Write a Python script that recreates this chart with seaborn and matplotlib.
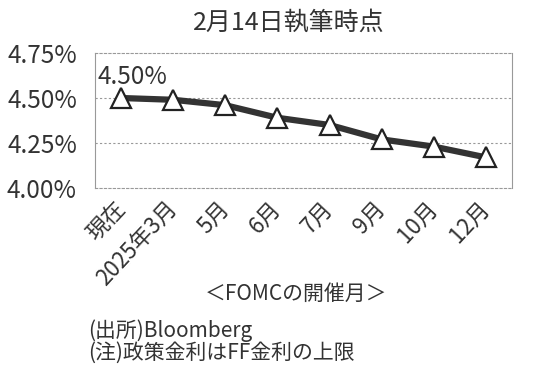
import matplotlib
matplotlib.use("Agg")
import matplotlib.pyplot as plt
import seaborn as sns
import pandas as pd

categories = ["現在", "2025年3月", "5月", "6月", "7月", "9月", "10月", "12月"]
rates = [4.50, 4.49, 4.46, 4.39, 4.35, 4.27, 4.23, 4.17]
ytick_vals = [4.00, 4.25, 4.50, 4.75]
ytick_labels = ["4.00%", "4.25%", "4.50%", "4.75%"]
title = "2月14日執筆時点"
annot = "4.50%"
xlabel = "＜FOMCの開催月＞"
notes = ["(出所)Bloomberg", "(注)政策金利はFF金利の上限"]

sns.set_theme(style="white")
plt.rcParams["font.family"] = ["Noto Sans CJK JP", "DejaVu Sans"]
txt = "#333333"

df = pd.DataFrame({"idx": range(len(categories)), "rate": rates})

fig = plt.figure(figsize=(5.5, 3.76), dpi=100)
ax = fig.add_axes([95/550, 1-188/376, (512-95)/550, (188-53)/376])

sns.lineplot(data=df, x="idx", y="rate", ax=ax, color="#333333", linewidth=4.5,
             marker="^", markersize=14, markerfacecolor="white",
             markeredgecolor="#222222", markeredgewidth=1.6, zorder=3)

ax.set_xlim(-0.5, len(categories) - 0.5)
ax.set_ylim(4.0, 4.75)
ax.set_yticks(ytick_vals)
ax.set_yticklabels(ytick_labels, fontsize=17.5, color=txt)
ax.set_xticks(range(len(categories)))
ax.set_xticklabels(categories, fontsize=16, color=txt, rotation=47,
                   ha="right", va="center", rotation_mode="anchor")
ax.tick_params(axis="both", length=0)
ax.tick_params(axis="y", pad=13)
ax.tick_params(axis="x", pad=12)
ax.set_xlabel("")
ax.set_ylabel("")

for v in [4.25, 4.50]:
    ax.axhline(v, color="#999999", linestyle=(0, (2, 2)), linewidth=0.8, zorder=1)

for side in ["top", "bottom"]:
    ax.spines[side].set_color("#999999")
    ax.spines[side].set_linestyle((0, (2, 2)))
    ax.spines[side].set_linewidth(0.8)
for side in ["left", "right"]:
    ax.spines[side].set_color("#999999")
    ax.spines[side].set_linewidth(0.8)

ax.annotate(annot, xy=(0, rates[0]), xytext=(-17, 6), textcoords="offset points",
            fontsize=17.5, color=txt, ha="left", va="bottom")

fig.text(289/550, 1-22/376, title, fontsize=18, color=txt, ha="center", va="center")
fig.text(296/550, 1-294/376, xlabel, fontsize=15, color=txt, ha="center", va="center")
fig.text(88/550, 1-331/376, notes[0], fontsize=15, color=txt, ha="left", va="center")
fig.text(88/550, 1-353/376, notes[1], fontsize=15, color=txt, ha="left", va="center")

fig.savefig("out.png", dpi=100, facecolor="white")
